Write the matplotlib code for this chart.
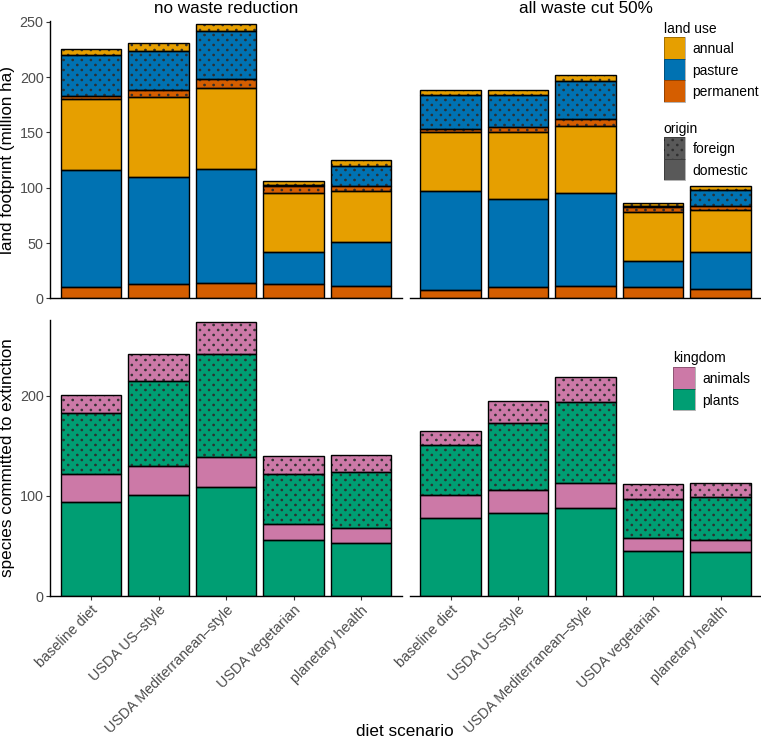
import matplotlib
matplotlib.use('Agg')
import matplotlib.pyplot as plt
import matplotlib.hatch as mhatch
from matplotlib.path import Path
from matplotlib.patches import Rectangle
import numpy as np

plt.rcParams['font.family'] = ['Liberation Sans', 'DejaVu Sans']
plt.rcParams['hatch.linewidth'] = 0.5

diets = ['baseline diet', 'USDA US\u2013style', 'USDA Mediterranean\u2013style',
         'USDA vegetarian', 'planetary health']
scenarios = ['no waste reduction', 'all waste cut 50%']

# ---- land footprint (million ha), per scenario: [no waste reduction, all waste cut 50%]
land_dom_permanent = [[9.9, 13.3, 14.2, 13.3, 11.1], [7.2, 10.2, 11.1, 10.2, 8.7]]
land_dom_pasture   = [[106.4, 96.6, 103.0, 28.6, 40.1], [89.5, 79.9, 84.4, 23.5, 33.2]]
land_dom_annual    = [[63.8, 72.3, 73.2, 53.3, 45.8], [53.9, 59.9, 60.5, 44.0, 37.9]]
land_for_permanent = [[3.0, 6.4, 7.8, 6.0, 4.8], [2.1, 4.8, 6.0, 4.5, 3.6]]
land_for_pasture   = [[36.5, 34.9, 43.1, 1.2, 18.1], [30.7, 28.6, 34.7, 0.9, 14.5]]
land_for_annual    = [[6.0, 6.9, 6.9, 3.3, 4.8], [4.6, 5.2, 5.4, 3.0, 3.6]]

# ---- species committed to extinction
sp_dom_plants  = [[93.5, 100.8, 108.5, 56.2, 53.2], [77.5, 82.5, 88.2, 45.3, 43.6]]
sp_dom_animals = [[28.0, 29.0, 30.3, 15.3, 15.0], [23.3, 23.3, 24.6, 12.3, 12.3]]
sp_for_plants  = [[61.5, 85.2, 102.5, 50.6, 55.3], [49.9, 67.2, 80.5, 39.6, 43.3]]
sp_for_animals = [[17.3, 26.6, 31.9, 18.0, 16.9], [14.4, 21.7, 25.7, 14.6, 13.9]]

land_ticks = [0, 50, 100, 150, 200, 250]
sp_ticks = [0, 100, 200]

land_use_labels = ['annual', 'pasture', 'permanent']
origin_labels = ['foreign', 'domestic']
kingdom_labels = ['animals', 'plants']

C_ANNUAL = '#E69F00'
C_PASTURE = '#0072B2'
C_PERM = '#D55E00'
C_ANIM = '#CC79A7'
C_PLANT = '#009E73'
C_GRAY = '#595959'
DOT = '#2E2E2E'
TICKC = '#4D4D4D'


# --- staggered dot texture (like ggpattern 'circle' pattern) used for '.' hatches
class DotLattice(mhatch.HatchPatternBase):
    NROWS, NCOLS, RAD = 20, 11, 0.0095

    def __init__(self, hatch, density):
        circ = Path.unit_circle()
        self.cv = circ.vertices
        self.cc = circ.codes
        self.centers = []
        if hatch.count('.') > 0:
            for r in range(self.NROWS + 1):
                yy = r / self.NROWS
                if r % 2 == 0:
                    xs = np.arange(self.NCOLS + 1) / self.NCOLS
                else:
                    xs = (np.arange(self.NCOLS) + 0.5) / self.NCOLS
                for xx in xs:
                    self.centers.append((xx, yy))
        self.num_vertices = len(self.centers) * len(self.cv)

    def set_vertices_and_codes(self, vertices, codes):
        n = len(self.cv)
        cur = 0
        for cx, cy in self.centers:
            vertices[cur:cur + n] = self.cv * self.RAD + (cx, cy)
            codes[cur:cur + n] = self.cc
            cur += n


mhatch._hatch_types = [t if t is not mhatch.SmallFilledCircles else DotLattice
                       for t in mhatch._hatch_types]

W, H = 761, 749
fig = plt.figure(figsize=(W / 100, H / 100), dpi=100)


def ax_px(x0, y0, x1, y1):
    return fig.add_axes([x0 / W, 1 - y1 / H, (x1 - x0) / W, (y1 - y0) / H])


axes = {
    (0, 0): ax_px(50.5, 20.7, 401.5, 298.3),
    (0, 1): ax_px(410, 20.7, 761, 298.3),
    (1, 0): ax_px(50.5, 320, 401.5, 596),
    (1, 1): ax_px(410, 320, 761, 596),
}

land_layers = [
    (land_dom_permanent, C_PERM, False),
    (land_dom_pasture, C_PASTURE, False),
    (land_dom_annual, C_ANNUAL, False),
    (land_for_permanent, C_PERM, True),
    (land_for_pasture, C_PASTURE, True),
    (land_for_annual, C_ANNUAL, True),
]
sp_layers = [
    (sp_dom_plants, C_PLANT, False),
    (sp_dom_animals, C_ANIM, False),
    (sp_for_plants, C_PLANT, True),
    (sp_for_animals, C_ANIM, True),
]

x = np.arange(1, len(diets) + 1)


def draw_stack(ax, layers, s):
    bottom = np.zeros(len(diets))
    segs = []
    for vals, col, foreign in layers:
        v = np.array(vals[s])
        if foreign:
            ax.bar(x, v, bottom=bottom, width=0.9, color=col, edgecolor=DOT,
                   linewidth=0, hatch='.', zorder=2)
        else:
            ax.bar(x, v, bottom=bottom, width=0.9, color=col, linewidth=0, zorder=2)
        segs.append((v.copy(), bottom.copy()))
        bottom = bottom + v
    for v, b in segs:
        ax.bar(x, v, bottom=b, width=0.9, fill=False, edgecolor='black',
               linewidth=1.0, zorder=3)


for (r, c), ax in axes.items():
    layers = land_layers if r == 0 else sp_layers
    draw_stack(ax, layers, c)
    ax.set_xlim(0.4, 5.6)
    if r == 0:
        ax.set_ylim(0, 251)
        ax.set_yticks(land_ticks)
    else:
        ax.set_ylim(0, 275.5)
        ax.set_yticks(sp_ticks)
    for sp in ['top', 'right']:
        ax.spines[sp].set_visible(False)
    for sp in ['bottom', 'left']:
        ax.spines[sp].set_linewidth(1.0)
        ax.spines[sp].set_color('black')
    ax.tick_params(axis='both', length=3, width=0.8, color='#333333',
                   labelsize=10.4, labelcolor=TICKC, pad=2)
    if c == 1:
        ax.spines['left'].set_visible(False)
        ax.tick_params(axis='y', left=False, labelleft=False)
    if r == 0:
        ax.set_xticks([])
        ax.set_title(scenarios[c], fontsize=12.3, pad=5.3)
    else:
        ax.set_xticks(x)
        ax.set_xticklabels(diets, rotation=45, ha='right', va='top',
                           rotation_mode='anchor')
    ax.set_facecolor('none')

axes[(0, 0)].set_ylabel('land footprint (million ha)', fontsize=12.3)
axes[(0, 0)].yaxis.set_label_coords((15 - 50.5) / 351, 0.5)
axes[(1, 0)].set_ylabel('species committed to extinction', fontsize=12.3)
axes[(1, 0)].yaxis.set_label_coords((15 - 50.5) / 351, 0.5)

fig.text(405 / W, 1 - 731 / H, 'diet scenario', ha='center', va='center', fontsize=12.3)

# ---- legends (overlay in pixel coordinates)
lg = fig.add_axes([0, 0, 1, 1], zorder=10)
lg.set_xlim(0, W)
lg.set_ylim(H, 0)
lg.axis('off')
lg.patch.set_alpha(0)

KEY = 21.8


def legend_block(x0, title_base, key_top, title, labels, colors, hatches):
    lg.text(x0, title_base, title, fontsize=10, ha='left', va='baseline')
    for i, (lab, col, hat) in enumerate(zip(labels, colors, hatches)):
        y0 = key_top + i * KEY
        if hat:
            lg.add_patch(Rectangle((x0, y0), KEY, KEY, facecolor=col, edgecolor=DOT,
                                   linewidth=0, hatch='.'))
        else:
            lg.add_patch(Rectangle((x0, y0), KEY, KEY, facecolor=col, linewidth=0))
        lg.add_patch(Rectangle((x0, y0), KEY, KEY, fill=False,
                               edgecolor=(0, 0, 0, 0.35), linewidth=0.6))
        lg.text(x0 + KEY + 7.2, y0 + KEY / 2 + 5.2, lab, fontsize=10,
                ha='left', va='baseline')


legend_block(663.5, 33.3, 36.7, 'land use', land_use_labels,
             [C_ANNUAL, C_PASTURE, C_PERM], [False, False, False])
legend_block(663.5, 132.7, 136.7, 'origin', origin_labels,
             [C_GRAY, C_GRAY], [True, False])
legend_block(673.3, 361.7, 366.7, 'kingdom', kingdom_labels,
             [C_ANIM, C_PLANT], [False, False])

fig.savefig('out.png', dpi=100)
